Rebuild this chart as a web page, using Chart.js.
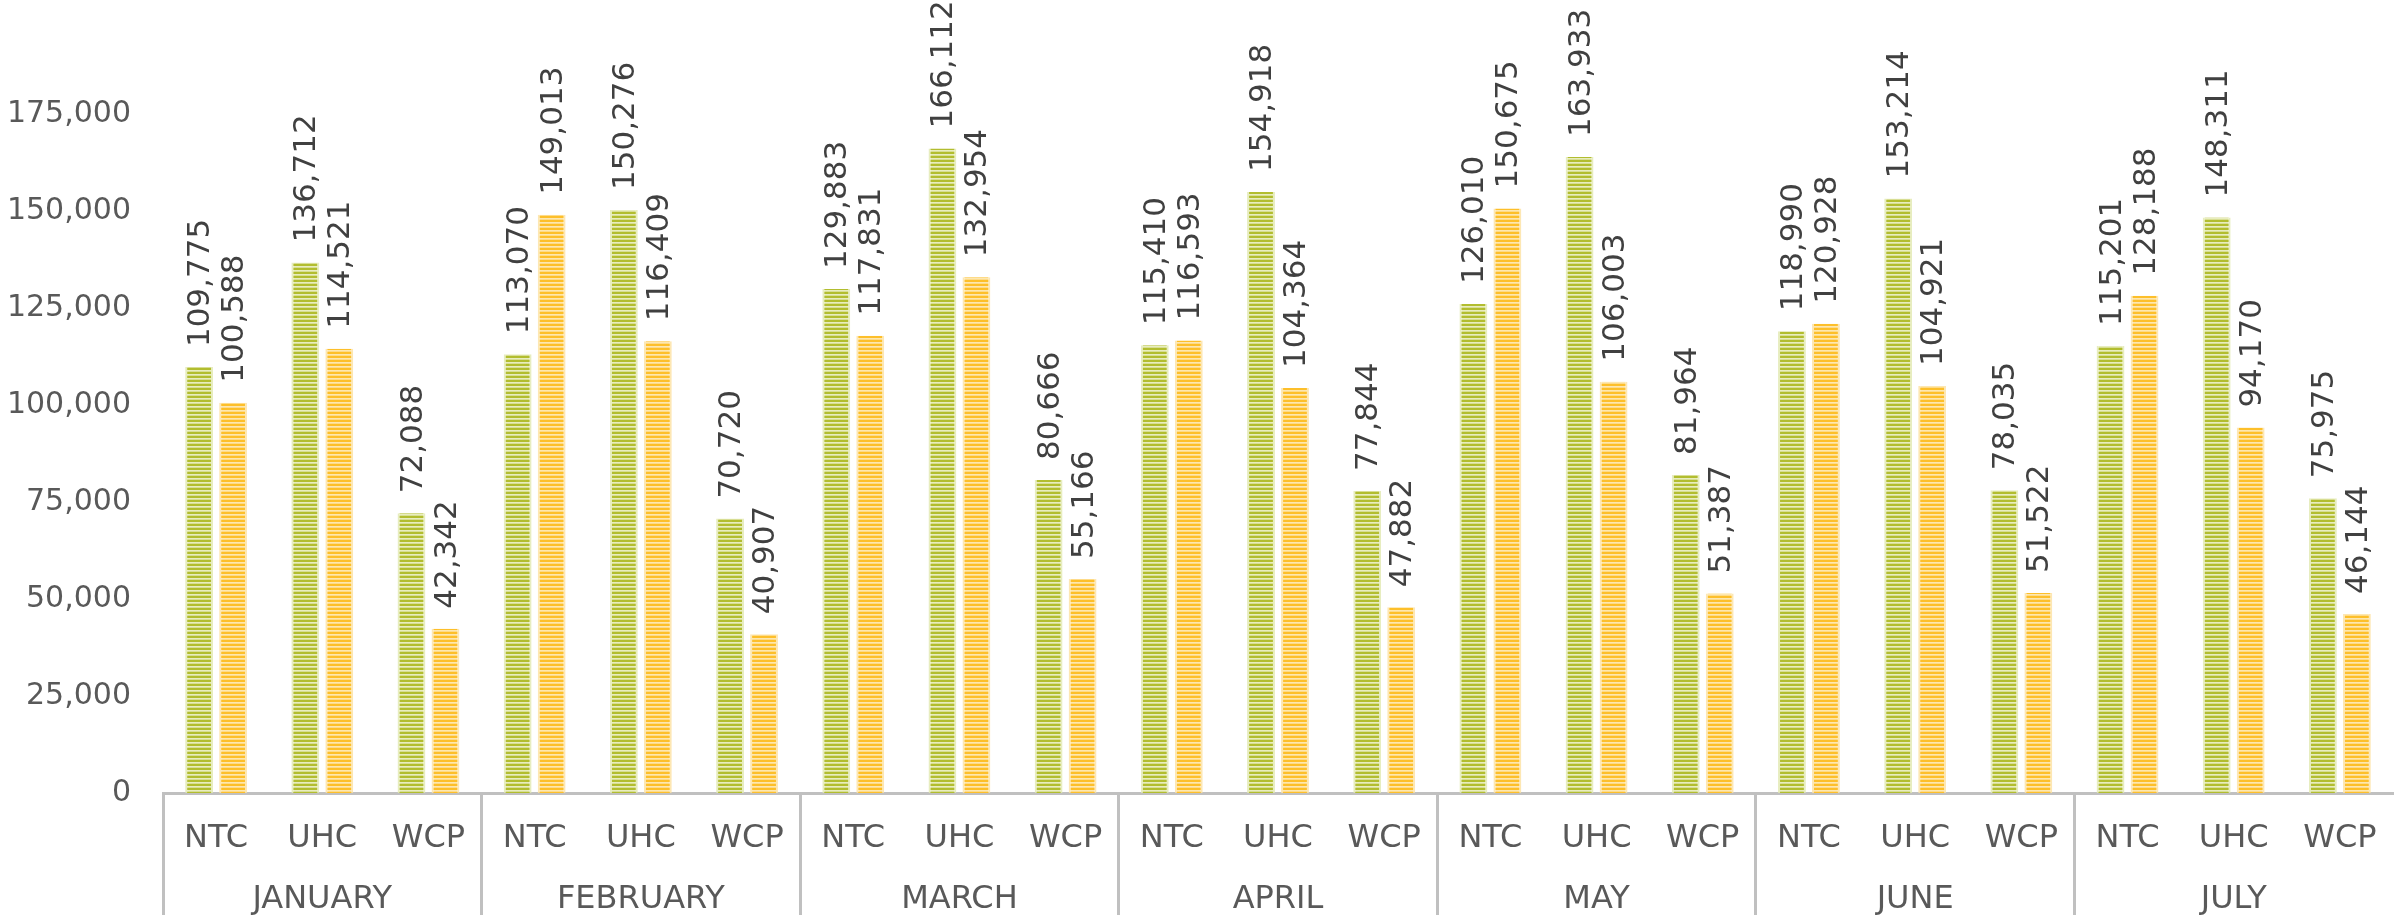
<!DOCTYPE html>
<html lang="en">
<head>
    <meta charset="UTF-8">
    <title>Monthly volumes</title>
    <script src="https://cdn.jsdelivr.net/npm/chart.js"></script>
    <style>
        html, body { margin: 0; padding: 0; background: #fff; overflow: hidden; }
        #wrap { width: 2395px; height: 915px; }
    </style>
</head>
<body>
    <div id="wrap"><canvas id="volChart"></canvas></div>

    <script>
        const months = ['JANUARY', 'FEBRUARY', 'MARCH', 'APRIL', 'MAY', 'JUNE', 'JULY'];
        const sites = ['NTC', 'UHC', 'WCP'];
        const greenValues = [
            109775, 136712, 72088,
            113070, 150276, 70720,
            129883, 166112, 80666,
            115410, 154918, 77844,
            126010, 163933, 81964,
            118990, 153214, 78035,
            115201, 148311, 75975
        ];
        const orangeValues = [
            100588, 114521, 42342,
            149013, 116409, 40907,
            117831, 132954, 55166,
            116593, 104364, 47882,
            150675, 106003, 51387,
            120928, 104921, 51522,
            128188, 94170, 46144
        ];
        const yTicks = [0, 25000, 50000, 75000, 100000, 125000, 150000, 175000];

        // two-line labels: site on top, month under the middle site
        const labels = [];
        months.forEach(m => {
            sites.forEach((s, i) => labels.push(i === 1 ? [s, m] : [s, '']));
        });

        // horizontal stripe fill like the original
        function stripes(base, light) {
            const c = document.createElement('canvas');
            c.width = 4; c.height = 4;
            const g = c.getContext('2d');
            g.fillStyle = base;
            g.fillRect(0, 0, 4, 4);
            g.fillStyle = light;
            g.fillRect(0, 2, 4, 1);
            g.globalAlpha = 0.7;
            g.fillRect(0, 3, 4, 1);
            return g.createPattern(c, 'repeat');
        }

        const fmt = v => v.toLocaleString('en-US');

        const valueLabels = {
            id: 'valueLabels',
            afterDatasetsDraw(chart) {
                const ctx = chart.ctx;
                ctx.save();
                ctx.font = '31px "DejaVu Sans"';
                ctx.fillStyle = '#404040';
                ctx.textAlign = 'left';
                ctx.textBaseline = 'middle';
                chart.data.datasets.forEach((ds, di) => {
                    chart.getDatasetMeta(di).data.forEach((bar, i) => {
                        ctx.save();
                        ctx.translate(bar.x + 2, bar.y - 20);
                        ctx.rotate(-Math.PI / 2);
                        ctx.fillText(fmt(ds.data[i]), 0, 0);
                        ctx.restore();
                    });
                });
                ctx.restore();
            }
        };

        const ctx = document.getElementById('volChart').getContext('2d');
        new Chart(ctx, {
            type: 'bar',
            data: {
                labels: labels,
                datasets: [{
                    label: 'Series 1',
                    data: greenValues,
                    backgroundColor: stripes('#b2bd2f', '#e8edbf'),
                    borderColor: 'rgba(225,232,175,0.8)',
                    borderWidth: { left: 2, right: 2, top: 0, bottom: 0 },
                    borderSkipped: false,
                    categoryPercentage: 0.64,
                    barPercentage: 0.82
                }, {
                    label: 'Series 2',
                    data: orangeValues,
                    backgroundColor: stripes('#fdbf2a', '#fde7b0'),
                    borderColor: 'rgba(253,225,160,0.8)',
                    borderWidth: { left: 2, right: 2, top: 0, bottom: 0 },
                    borderSkipped: false,
                    categoryPercentage: 0.64,
                    barPercentage: 0.82
                }]
            },
            options: {
                responsive: true,
                maintainAspectRatio: false,
                animation: false,
                layout: { padding: { top: 17, right: 2, left: 0, bottom: 0 } },
                plugins: {
                    legend: { display: false },
                    tooltip: { enabled: false }
                },
                scales: {
                    x: {
                        grid: {
                            display: true,
                            offset: true,
                            drawOnChartArea: false,
                            drawTicks: true,
                            tickLength: 122,
                            tickWidth: 3,
                            tickColor: c => (c.index % 3 === 0 ? '#c0c0c0' : 'rgba(0,0,0,0)')
                        },
                        border: { display: true, color: '#c0c0c0', width: 3 },
                        ticks: {
                            color: '#595959',
                            font: { family: '"DejaVu Sans"', size: 32, lineHeight: 1.9 },
                            padding: -107,
                            maxRotation: 0,
                            autoSkip: false
                        },
                        afterFit: s => { s.height = 122; }
                    },
                    y: {
                        min: 0,
                        max: 200000,
                        afterBuildTicks: s => { s.ticks = yTicks.map(v => ({ value: v })); },
                        grid: { display: false, drawTicks: false },
                        border: { display: false },
                        ticks: {
                            color: '#595959',
                            font: { family: '"DejaVu Sans"', size: 30 },
                            padding: 32,
                            callback: v => fmt(v)
                        },
                        afterFit: s => {
                            s.width = 163;
                            s.paddingTop = 0;
                            s.paddingBottom = 0;
                        }
                    }
                }
            },
            plugins: [valueLabels]
        });
    </script>
</body>
</html>
